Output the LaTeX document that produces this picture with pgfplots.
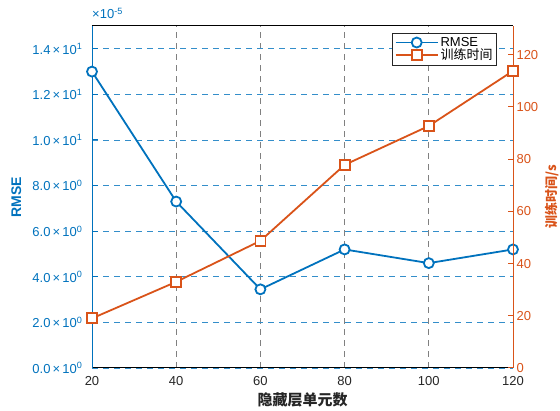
\documentclass[border=0pt]{standalone}
\usepackage{pgfplots}
\pgfplotsset{compat=1.18}
\usepackage{fontspec}
\setmainfont{Liberation Sans}
\newfontfamily\cjk{Noto Sans CJK SC}
\definecolor{mblue}{rgb}{0,0.447,0.741}
\definecolor{morange}{rgb}{0.85,0.325,0.098}
\definecolor{mgray}{rgb}{0.15,0.15,0.15}
\pgfplotsset{/pgf/number format/assume math mode=true}
\begin{document}
\begin{tikzpicture}[x=1pt,y=1pt]
\path[use as bounding box] (0,0) rectangle (560,411);
\begin{axis}[at={(92pt,43pt)}, anchor=south west, scale only axis,
  width=421pt, height=342pt,
  xmin=20, xmax=120, ymin=0, ymax=15,
  axis y line*=left,
  xtick={20,40,...,120}, ytick={0,2,...,14},
  yticklabels={0.0\,×\,10\textsuperscript{0},2.0\,×\,10\textsuperscript{0},4.0\,×\,10\textsuperscript{0},6.0\,×\,10\textsuperscript{0},8.0\,×\,10\textsuperscript{0},1.0\,×\,10\textsuperscript{1},1.2\,×\,10\textsuperscript{1},1.4\,×\,10\textsuperscript{1}},
  tick align=inside, major tick length=6pt,
  ticklabel style={font=\fontsize{13}{15}\selectfont},
  xticklabel style={text=mgray, yshift=-5pt},
  yticklabel style={text=mblue, xshift=-6pt},
  x axis line style={black, line width=1pt},
  y axis line style={mblue, line width=1pt},
  ytick style={mblue, line width=1pt},
  xtick style={draw=none},
  xmajorgrids, ymajorgrids,
  x grid style={gray, dash pattern=on 6pt off 5pt, line width=0.8pt},
  y grid style={mblue!80, dash pattern=on 6pt off 5pt, line width=0.8pt},
  xlabel={\cjk\bfseries 隐藏层单元数},
  xlabel style={text=mgray, font=\fontsize{15}{17}\selectfont, at={(axis description cs:0.5,-0.094)}, anchor=center},
  ylabel={\bfseries RMSE},
  ylabel style={text=mblue, font=\fontsize{14}{16}\selectfont, at={(axis description cs:-0.18,0.5)}, anchor=center, rotate=0},
  clip=false,
]
\addplot[mblue, line width=1.8pt, mark=*, mark size=5pt, mark options={fill=white, line width=1.8pt}]
  coordinates {(20,13.0) (40,7.3) (60,3.45) (80,5.2) (100,4.6) (120,5.2)};
\node[anchor=south west, text=mblue, font=\fontsize{13}{15}\selectfont, inner sep=0pt] at (axis description cs:0,1.02) {×10\textsuperscript{-5}};
\end{axis}
\begin{axis}[at={(92pt,43pt)}, anchor=south west, scale only axis,
  width=421pt, height=342pt,
  xmin=20, xmax=120, ymin=0, ymax=131,
  axis x line=none, axis y line*=right,
  ytick={0,20,...,120},
  tick align=inside, major tick length=5pt,
  ticklabel style={font=\fontsize{13}{15}\selectfont},
  yticklabel style={text=morange},
  y axis line style={morange, line width=1pt},
  ytick style={morange, line width=1pt},
  ylabel={\cjk\bfseries 训练时间/s},
  ylabel style={text=morange, font=\fontsize{13}{15}\selectfont, at={(axis description cs:1.092,0.5)}, anchor=center, rotate=0},
  legend style={at={(axis description cs:0.962,0.98)}, anchor=north east, draw=mgray, line width=0.8pt, font=\fontsize{13}{15}\selectfont, inner sep=2pt, row sep=-3pt, cells={anchor=west}},
  legend cell align=left,
  legend image code/.code={\draw[#1] (0pt,0pt) -- (42pt,0pt); \draw[#1, only marks] plot coordinates {(21pt,0pt)};},
  clip=false,
]
\addlegendimage{mblue, line width=1.8pt, mark=*, mark size=5pt, mark options={fill=white, line width=1.8pt}}
\addlegendentry{RMSE}
\addplot[morange, line width=1.8pt, mark=square*, mark size=5pt, mark options={fill=white, line width=1.8pt}]
  coordinates {(20,19) (40,33) (60,48.7) (80,77.8) (100,92.7) (120,113.8)};
\addlegendentry{\cjk 训练时间}
\end{axis}
\end{tikzpicture}
\end{document}
